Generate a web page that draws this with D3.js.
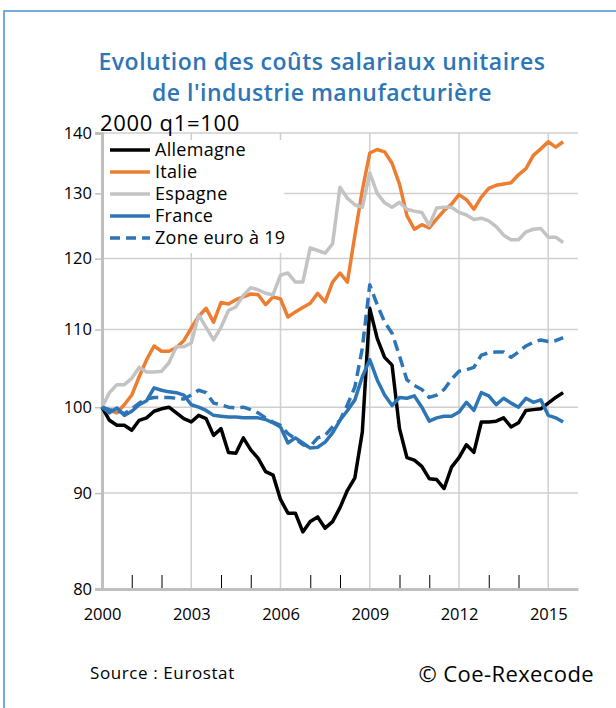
<!DOCTYPE html>
<html><head><meta charset="utf-8">
<script src="https://cdn.jsdelivr.net/npm/d3@7/dist/d3.min.js"></script>
<style>body{margin:0;background:#fff}svg{display:block}</style>
</head><body>
<script>
// ---- data (2000 q1 = 100), quarterly from 2000 Q1 to 2015 Q3 ----
const startYear = 2000;
const allemagne = [100,98.4,97.8,97.8,97.2,98.4,98.7,99.5,99.8,100.0,99.3,98.6,98.2,99.0,98.6,96.6,
  97.4,94.6,94.5,96.3,94.9,93.9,92.4,92.0,89.3,87.8,87.8,85.8,86.9,87.4,86.2,86.9,
  88.4,90.3,91.7,97.0,112.9,108.8,106.3,105.3,97.4,94.0,93.7,93.0,91.6,91.5,90.5,92.9,
  94.0,95.5,94.6,98.2,98.2,98.3,98.7,97.6,98.1,99.6,99.7,99.8,100.5,101.2,101.8];
const italie = [100,99.6,99.3,100.3,101.5,103.8,106.0,107.8,107.1,107.1,107.6,108.5,110.2,111.8,112.9,111.0,
  113.7,113.5,114.1,114.5,114.9,114.8,113.4,114.5,114.2,111.7,112.4,113.0,113.6,115.0,113.8,116.6,
  117.9,116.6,123.5,130.5,136.6,137.2,136.8,134.9,131.5,126.5,124.4,125.1,124.6,126.0,127.3,128.3,
  129.8,129.0,127.5,129.4,130.8,131.3,131.5,131.7,133.0,134.0,136.2,137.3,138.5,137.6,138.5];
const espagne = [100,101.8,102.8,102.8,103.6,105.0,104.4,104.4,104.5,105.6,107.7,107.7,108.2,112.0,110.3,108.6,
  110.3,112.6,113.1,114.7,115.8,115.5,115.0,114.8,117.6,117.9,116.6,116.6,121.6,121.2,120.8,122.2,
  131.0,129.2,128.2,127.8,133.3,130.0,128.5,127.8,128.6,127.5,127.2,127.0,125.0,127.7,127.8,127.8,
  127.0,126.6,125.9,126.1,125.7,124.8,123.5,122.8,122.8,124.0,124.4,124.5,123.2,123.2,122.4];
const france = [100,99.3,99.9,99.0,99.5,100.3,100.8,102.4,102.1,101.9,101.8,101.5,100.3,100.0,99.6,99.0,
  98.9,98.8,98.8,98.7,98.7,98.7,98.5,98.1,97.6,95.7,96.3,95.7,95.1,95.2,95.8,96.9,
  98.4,99.6,100.9,103.8,106.0,103.4,101.5,100.2,101.2,101.1,101.4,100.0,98.3,98.7,98.9,98.9,
  99.4,100.6,99.6,101.8,101.4,100.3,101.1,100.5,100.0,101.1,100.6,100.9,99.0,98.7,98.2];
const zoneEuro = [100,99.7,99.6,99.2,99.8,100.5,101.0,101.2,101.2,101.2,101.1,101.0,101.5,102.1,101.8,100.5,
  100.3,100.0,99.9,100.0,99.7,99.3,98.7,98.2,97.8,96.8,96.2,95.5,95.3,96.3,96.6,97.6,
  98.4,100.3,102.5,107.5,116.2,113.4,111.0,109.5,106.5,103.4,102.7,102.2,101.2,101.5,102.2,103.5,
  104.5,104.7,105.0,106.6,106.9,107.0,107.0,106.3,107.0,107.8,108.3,108.6,108.4,108.5,108.9];
const yTicks = [80,90,100,110,120,130,140];
const xLabelYears = [2000,2003,2006,2009,2012,2015];
const xMinorYears = [2001,2002,2004,2005,2007,2008,2010,2011,2013,2014];
const seriesNames = ["Allemagne","Italie","Espagne","France","Zone euro à 19"];

const quarters = d3.range(allemagne.length).map(i => startYear + i / 4);
const seriesList = [
  {name: seriesNames[0], values: allemagne, color: "#000000", dash: null},
  {name: seriesNames[1], values: italie, color: "#ED7D31", dash: null},
  {name: seriesNames[2], values: espagne, color: "#C3C3C3", dash: null},
  {name: seriesNames[3], values: france, color: "#2E75B6", dash: null},
  {name: seriesNames[4], values: zoneEuro, color: "#2E75B6", dash: "11,6"}
];

const W = 616, H = 708;
const svg = d3.select("body").append("svg").attr("width", W).attr("height", H);
const FONT = "'Open Sans', Lato, sans-serif";

// frame
svg.append("rect").attr("x", 4).attr("y", 11).attr("width", 800).attr("height", 900)
  .attr("fill", "none").attr("stroke", "#4A8FD0").attr("stroke-width", 1.5);

// title
const titleLines = ["Evolution des coûts salariaux unitaires", "de l'industrie manufacturière"];
svg.selectAll(".title").data(titleLines).join("text")
  .attr("x", 322).attr("y", (d, i) => 70 + i * 31).attr("text-anchor", "middle")
  .attr("font-family", FONT).attr("font-size", 23).attr("font-weight", 600)
  .attr("letter-spacing", 0.5).attr("fill", "#2E75B6").text(d => d);

const pL = 102, pR = 578, pT = 133, pB = 589;
const x = d3.scaleLinear().domain([2000, 2016]).range([pL, pR]);
const y = d3.scaleLog().domain([80, 140]).range([pB, pT]);

// gridlines
const g = svg.append("g");
g.selectAll(".hg").data(yTicks.filter(d => d !== 80)).join("line")
  .attr("x1", pL).attr("x2", pR).attr("y1", d => y(d)).attr("y2", d => y(d))
  .attr("stroke", "#CFCFCF").attr("stroke-width", 1.5);
g.selectAll(".vg").data(xLabelYears.filter(d => d !== 2000)).join("line")
  .attr("x1", d => x(d)).attr("x2", d => x(d)).attr("y1", pT).attr("y2", pB)
  .attr("stroke", "#CFCFCF").attr("stroke-width", 1.5);

// y axis (left)
const yAxis = d3.axisLeft(y).tickValues(yTicks).tickFormat(d3.format("d")).tickSize(7).tickPadding(3);
const ya = svg.append("g").attr("transform", `translate(${pL},0)`).call(yAxis);
ya.select(".domain").attr("stroke", "#BFBFBF").attr("stroke-width", 3);
ya.selectAll(".tick line").attr("stroke", "#BFBFBF").attr("stroke-width", 1.5);
ya.selectAll(".tick text").attr("font-family", FONT).attr("font-size", 16.5).attr("fill", "#000");

// x axis (bottom)
const xAxis = d3.axisBottom(x).tickValues(xLabelYears).tickFormat(d3.format("d")).tickSize(0).tickPadding(19);
const xa = svg.append("g").attr("transform", `translate(0,${pB})`).call(xAxis);
xa.select(".domain").attr("stroke", "#BFBFBF").attr("stroke-width", 3);
xa.selectAll(".tick text").attr("font-family", FONT).attr("font-size", 16.5).attr("fill", "#000");
// minor year ticks
const minorAxis = d3.axisTop(x).tickValues(xMinorYears).tickSize(13).tickFormat("");
const ma = svg.append("g").attr("transform", `translate(0,${pB - 1})`).call(minorAxis);
ma.select(".domain").remove();
ma.selectAll(".tick line").attr("stroke", "#000").attr("stroke-width", 1);

// legend background
svg.append("rect").attr("x", 104).attr("y", 140).attr("width", 180).attr("height", 113).attr("fill", "#fff");

// lines
const line = d3.line().x((d, i) => x(quarters[i])).y(d => y(d)).curve(d3.curveLinear);
svg.append("g").selectAll("path").data(seriesList).join("path")
  .attr("d", d => line(d.values)).attr("fill", "none")
  .attr("stroke", d => d.color).attr("stroke-width", 3.5)
  .attr("stroke-linejoin", "round")
  .attr("stroke-dasharray", d => d.dash);

// legend
const lg = svg.append("g").selectAll("g").data(seriesList).join("g")
  .attr("transform", (d, i) => `translate(110,${150 + i * 22})`);
lg.append("line").attr("x1", 0).attr("x2", 40).attr("stroke", d => d.color)
  .attr("stroke-width", 3.5).attr("stroke-dasharray", d => d.dash ? "10,6" : null);
lg.append("text").attr("x", 45).attr("dy", "0.35em").attr("font-family", FONT)
  .attr("font-size", 18).attr("letter-spacing", 0.3).text(d => d.name);

// unit label
svg.append("text").attr("x", 100).attr("y", 131).attr("font-family", FONT).attr("font-size", 22)
  .attr("letter-spacing", 0.7).text("2000 q1=100");

// footer
svg.append("text").attr("x", 90).attr("y", 679).attr("font-family", FONT).attr("font-size", 17)
  .attr("letter-spacing", 0.6).text("Source : Eurostat");
svg.append("text").attr("x", 594).attr("y", 682).attr("text-anchor", "end").attr("font-family", FONT)
  .attr("font-size", 22).attr("letter-spacing", 0.4).text("© Coe-Rexecode");
</script>
</body></html>
